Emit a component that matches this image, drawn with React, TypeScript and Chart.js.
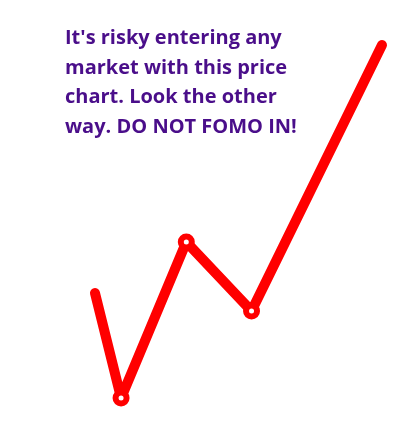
import React, { useEffect, useRef } from 'react';
import { Chart, registerables } from 'chart.js';

Chart.register(...registerables);

// time steps and prices
const steps = [0, 1, 3.5, 6, 11];
const prices = [130, 25, 181, 112, 378];
const markerRadius = [0, 5.5, 5.5, 5.5, 0];
const captionLines = [
  "It's risky entering any",
  'market with this price',
  'chart. Look the other',
  'way. DO NOT FOMO IN!',
];

const App: React.FC = () => {
  const canvasRef = useRef<HTMLCanvasElement | null>(null);

  useEffect(() => {
    const canvas = canvasRef.current;
    if (!canvas) return;
    const chart = new Chart(canvas, {
      type: 'line',
      data: {
        datasets: [
          {
            data: steps.map((x, i) => ({ x, y: prices[i] })),
            borderColor: '#ff0000',
            borderWidth: 10,
            borderCapStyle: 'round',
            borderJoinStyle: 'round',
            tension: 0,
            pointRadius: markerRadius,
            pointBorderWidth: 6,
            pointBorderColor: '#ff0000',
            pointBackgroundColor: '#ffffff',
          },
        ],
      },
      options: {
        animation: false,
        responsive: false,
        layout: { padding: 0 },
        plugins: { legend: { display: false }, tooltip: { enabled: false } },
        scales: {
          x: { type: 'linear', display: false, min: -3.64, max: 11.69 },
          y: { type: 'linear', display: false, min: 0, max: 423 },
        },
      },
    });
    return () => chart.destroy();
  }, []);

  return (
    <div style={{ position: 'absolute', left: 0, top: 0, width: 400, height: 423, background: '#fff' }}>
      <canvas ref={canvasRef} width={400} height={423} style={{ position: 'absolute', left: 0, top: 0 }} />
      <div
        style={{
          position: 'absolute',
          left: 65,
          top: 22,
          color: '#4a0e8a',
          fontFamily: '"Open Sans", sans-serif',
          fontWeight: 700,
          fontSize: 20,
          lineHeight: '29.5px',
          whiteSpace: 'pre',
        }}
      >
        {captionLines.map((l) => (
          <div key={l}>{l}</div>
        ))}
      </div>
    </div>
  );
};

export default App;
